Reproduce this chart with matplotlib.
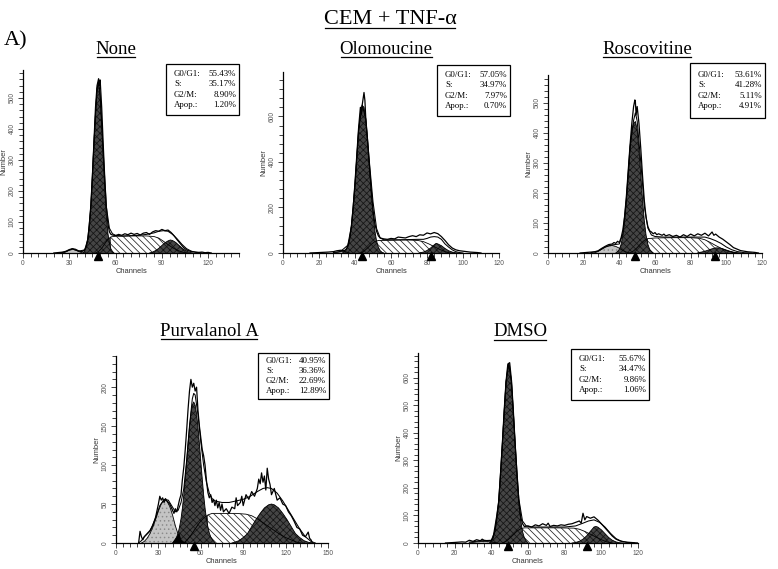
import numpy as np
import matplotlib
matplotlib.use("Agg")
import matplotlib.pyplot as plt
from matplotlib import transforms
from matplotlib.ticker import MultipleLocator
from matplotlib.patches import Rectangle
from matplotlib.lines import Line2D

# ------------------------------------------------------------------ data
main_title = "CEM + TNF-\u03b1"
panel_tag = "A)"
titles = ["None", "Olomoucine", "Roscovitine", "Purvalanol A", "DMSO"]
stat_labels = ["G0/G1:", "S:", "G2/M:", "Apop.:"]
none_stats = ["55.43%", "35.17%", "8.90%", "1.20%"]
olom_stats = ["57.05%", "34.97%", "7.97%", "0.70%"]
rosc_stats = ["53.61%", "41.28%", "5.11%", "4.91%"]
purv_stats = ["40.95%", "36.36%", "22.69%", "12.89%"]
dmso_stats = ["55.67%", "34.47%", "9.86%", "1.06%"]

# (channel, count) pairs
none_hist = [(20,0),(22,1),(24,2),(26,3),(28,6),(30,11),(32,14),(34,12),(36,7),(38,4),(40,10),(41,22),(42,45),
             (43,90),(44,155),(45,250),(46,360),(47,470),(48,540),(49,562),(49.6,540),(50,558),(51,470),(52,350),
             (53,240),(54,150),(55,95),(56,68),(57,60),(58,58),(60,56),(62,60),(64,57),(66,62),(68,59),(70,64),
             (72,60),(74,63),(76,58),(78,64),(80,66),(82,60),(84,68),(86,72),(88,70),(90,76),(92,72),(94,74),
             (96,66),(98,55),(100,42),(102,30),(104,18),(106,10),(108,6),(110,4),(112,3),(114,2),(116,3),(118,1),
             (120,2),(122,0)]
none_fit = [(24,0),(28,5),(32,13),(36,6),(40,10),(42,44),(44,152),(46,357),(48,531),(49,552),(50,514),(52,325),
            (54,150),(56,80),(58,62),(60,57),(65,55),(70,56),(75,57),(80,60),(85,65),(88,70),(91,72),(94,70),
            (97,60),(100,45),(103,28),(106,14),(109,6),(112,2),(116,0)]
none_g1 = [(39,0),(40,8),(41,19),(42,42),(43,85),(44,152),(45,246),(46,355),(47,458),(48,529),(49,547),(50,506),
           (51,419),(52,310),(53,206),(54,122),(55,65),(56,31),(57,13),(58,5),(59,0)]
none_s = [(47,0),(49,5),(51,15),(53,30),(55,44),(57,52),(60,54),(65,54),(70,55),(75,55),(80,55),(85,53),(88,48),
          (91,38),(94,27),(97,17),(100,9),(103,3),(106,0)]
none_g2 = [(82,0),(84,3),(86,8),(88,15),(90,24),(92,33),(94,39),(95.5,42),(97,40),(99,34),(101,25),(103,16),
           (105,9),(107,4),(109,1),(110,0)]
none_apo = [(26,0),(28,4),(30,10),(32,13),(34,10),(36,5),(38,1),(40,0)]
none_marks = [48.4]

olom_hist = [(15,0),(20,2),(25,4),(28,6),(30,10),(32,12),(34,10),(35,16),(36,30),(37,62),(38,118),(39,200),
             (40,310),(41,430),(42,550),(43,640),(43.6,610),(44,650),(45,705),(45.5,670),(46,590),(47,495),
             (48,385),(49,280),(50,190),(51,130),(52,95),(53,75),(54,66),(56,62),(58,60),(60,64),(62,62),(64,70),
             (66,68),(68,66),(70,72),(72,76),(74,72),(76,80),(78,78),(80,88),(82,84),(84,90),(86,85),(88,72),
             (90,55),(92,36),(94,22),(96,14),(98,10),(100,8),(102,6),(104,4),(106,3),(108,2),(110,0)]
olom_fit = [(28,2),(32,7),(36,34),(38,118),(40,302),(42,540),(44,650),(46,590),(48,400),(50,225),(52,107),
            (54,66),(56,58),(60,58),(65,58),(70,59),(75,60),(78,60),(80,64),(82,70),(84,72),(86,70),(88,60),
            (90,40),(92,26),(94,14),(96,6),(98,2),(100,0)]
olom_g1 = [(33,0),(34,5),(35,12),(36,28),(37,60),(38,115),(39,195),(40,300),(41,420),(42,535),(43,615),(44,648),
           (45,640),(46,585),(47,490),(48,380),(49,270),(50,175),(51,100),(52,52),(53,25),(54,10),(55,3),(56,0)]
olom_s = [(43,0),(45,8),(47,22),(49,38),(51,50),(53,55),(60,56),(65,57),(70,57),(75,55),(78,50),(81,40),
          (84,28),(87,16),(90,6),(93,0)]
olom_g2 = [(76,1),(78,4),(80,11),(82,22),(84,36),(85,42),(86,40),(88,32),(90,20),(92,10),(94,4),(96,1),(98,0)]
olom_apo = [(28,0),(31,4),(33,7),(35,5),(37,0)]
olom_marks = [44.1, 82.0]

rosc_hist = [(18,0),(22,2),(26,4),(28,7),(30,15),(32,22),(34,28),(36,30),(37,35),(38,32),(39,39),(40,35),
             (41,51),(42,78),(43,124),(44,193),(45,276),(46,359),(47,432),(48,488),(48.7,510),(49,504),
             (49.4,460),(50,488),(51,432),(52,350),(53,258),(54,175),(55,118),(56,88),(57,74),(58,70),(59,64),
             (60,68),(61,61),(62,64),(64,59),(65,63),(66,57),(68,61),(70,55),(72,59),(74,53),(76,61),(78,55),
             (80,63),(82,57),(84,64),(86,59),(88,66),(90,57),(92,70),(93,59),(94,63),(96,53),(98,46),(100,37),
             (102,28),(104,18),(106,13),(108,8),(110,6),(112,4),(114,3),(116,2),(118,0)]
rosc_fit = [(24,1),(28,6),(32,20),(36,27),(40,30),(42,64),(44,184),(46,354),(48,442),(49,467),(50,440),
            (52,304),(54,156),(56,83),(58,60),(60,55),(65,53),(70,53),(80,53),(85,53),(88,53),(91,48),(94,41),
            (97,32),(100,20),(103,11),(106,5),(110,1),(114,0)]
rosc_g1 = [(38,0),(39,5),(40,12),(41,29),(42,59),(43,108),(44,178),(45,262),(46,346),(47,410),(48,432),
           (49,438),(50,412),(51,346),(52,262),(53,178),(54,108),(55,59),(56,29),(57,12),(58,5),(59,0)]
rosc_s = [(46,0),(48,7),(50,18),(52,31),(54,42),(56,48),(60,50),(70,51),(80,51),(85,49),(88,44),(91,35),
          (94,25),(97,16),(100,8),(103,3),(106,0)]
rosc_g2 = [(84,1),(86,3),(88,6),(90,10),(92,14),(94,17),(96,17),(98,14),(100,10),(102,6),(104,3),(106,1),(108,0)]
rosc_apo = [(26,0),(28,5),(30,12),(32,19),(34,24),(36,25),(38,22),(40,16),(42,8),(44,3),(46,0)]
rosc_marks = [48.7, 93.5]

purv_hist = [(16,0),(17,15),(18,8),(19,4),(20,8),(22,12),(24,16),(26,22),(28,33),(30,50),(31,60),(32,55),
             (33,58),(34,52),(35,57),(36,54),(38,50),(40,42),(41,38),(42,44),(43,40),(44,48),(45,56),(46,62),
             (47,82),(48,98),(49,120),(50,145),(51,172),(52,195),(53,210),(54,200),(55,205),(56,195),(57,200),
             (58,170),(59,150),(60,135),(61,120),(62,112),(63,100),(64,80),(65,65),(66,58),(67,62),(68,52),
             (69,56),(70,48),(71,55),(72,45),(73,52),(74,42),(75,50),(76,40),(78,44),(80,38),(82,46),(84,44),
             (85,58),(86,48),(88,52),(89,60),(90,48),(92,62),(94,56),(96,66),(98,60),(100,70),(101,82),(102,76),
             (103,90),(104,78),(105,86),(106,68),(107,96),(108,82),(109,75),(110,62),(112,70),(114,55),(116,58),
             (118,50),(120,48),(122,40),(124,35),(126,28),(128,20),(130,18),(132,10),(134,8),(136,14),(137,6),
             (138,4),(139,0)]
purv_fit = [(16,0),(18,3),(20,8),(24,15),(28,32),(31,48),(34,56),(37,55),(40,46),(42,40),(44,42),(46,52),
            (48,70),(50,106),(52,150),(54,185),(55,192),(56,190),(58,165),(60,130),(62,100),(64,78),(66,64),
            (68,57),(70,54),(75,52),(80,52),(85,54),(90,56),(95,60),(100,66),(104,70),(107,71),(110,70),(114,64),
            (118,54),(122,42),(126,30),(130,18),(134,8),(138,2),(141,0)]
purv_g1 = [(40,0),(41,2.5),(42,5),(43,8),(44,13),(45,21),(46,31),(47,45),(48,62),(49,83),(50,105),(51,128),
           (52,149),(53,166),(54,177),(55,181),(56,177),(57,166),(58,149),(59,128),(60,105),(61,83),(62,62),
           (63,45),(64,31),(65,21),(66,13),(67,8),(68,5),(69,2.5),(70,0)]
purv_s = [(48,0),(50,3),(53,10),(56,18),(59,26),(62,32),(65,36),(68,38),(75,38),(85,38),(92,37),(96,35),
          (100,31),(104,26),(108,21),(112,16),(116,11),(120,7),(124,4),(128,1),(131,0)]
purv_g2 = [(82,0),(84,1),(87,3),(90,7),(93,12),(96,21),(99,30),(102,38),(105,45),(108,49),(110,50),(112,49),
           (115,45),(118,38),(121,30),(124,21),(127,12),(130,7),(133,3),(136,1),(139,0)]
purv_apo = [(18,0),(20,2),(22,6),(24,12),(26,20),(28,30),(30,41),(32,50),(34,55),(36,54),(38,47),(40,36),
            (42,22),(44,11),(46,4),(48,1),(50,0)]
purv_overlap = [(40,0),(42,5),(44,11),(45,12),(46,4),(48,1),(50,0)]
purv_marks = [55.4]

dmso_hist = [(15,0),(20,2),(24,4),(26,3),(28,10),(30,6),(32,12),(34,8),(35,14),(36,10),(38,8),(40,9),(41,20),
             (42,60),(43,100),(44,150),(45,250),(46,360),(47,480),(48,585),(49,650),(50,655),(51,590),(52,480),
             (53,360),(54,245),(55,155),(56,95),(57,70),(58,60),(60,62),(62,58),(64,66),(66,62),(68,70),(70,64),
             (71,72),(72,60),(74,64),(76,62),(78,66),(80,64),(82,68),(84,70),(86,75),(88,80),(89,72),(90,108),
             (91,84),(92,96),(94,90),(96,95),(98,84),(100,70),(102,55),(104,40),(106,25),(108,14),(110,8),
             (112,5),(114,3),(116,2),(118,1),(120,0)]
dmso_fit = [(28,3),(34,8),(40,10),(42,44),(44,150),(46,360),(48,585),(49.5,650),(51,585),(53,360),(55,160),
            (57,80),(59,62),(62,58),(70,58),(80,58),(86,62),(90,72),(93,80),(96,84),(99,75),(102,58),(105,35),
            (108,16),(111,6),(114,2),(118,0)]
dmso_g1 = [(39,0),(40,8),(41,19),(42,42),(43,83),(44,148),(45,242),(46,358),(47,479),(48,582),(49,642),
           (49.5,650),(50,642),(51,582),(52,479),(53,358),(54,242),(55,148),(56,83),(57,42),(58,19),(59,8),(60,0)]
dmso_s = [(46,0),(48,6),(50,17),(52,30),(54,43),(56,52),(58,55),(65,55),(75,55),(85,54),(88,50),(91,42),
          (94,32),(97,22),(100,12),(103,4),(106,0)]
dmso_g2 = [(84,0),(86,2),(88,6),(90,14),(92,26),(94,42),(96,58),(97,60),(98,58),(100,48),(102,34),(104,20),
           (106,10),(108,4),(110,1),(112,0)]
dmso_apo = [(28,0),(32,4),(36,6),(40,4),(43,0)]
dmso_marks = [49.2, 92.4]

panels = [
    dict(hist=none_hist, fit=none_fit, g1=none_g1, s=none_s, g2=none_g2, apo=none_apo, overlap=None,
         marks=none_marks, stats=none_stats),
    dict(hist=olom_hist, fit=olom_fit, g1=olom_g1, s=olom_s, g2=olom_g2, apo=olom_apo, overlap=None,
         marks=olom_marks, stats=olom_stats),
    dict(hist=rosc_hist, fit=rosc_fit, g1=rosc_g1, s=rosc_s, g2=rosc_g2, apo=rosc_apo, overlap=None,
         marks=rosc_marks, stats=rosc_stats),
    dict(hist=purv_hist, fit=purv_fit, g1=purv_g1, s=purv_s, g2=purv_g2, apo=purv_apo, overlap=purv_overlap,
         marks=purv_marks, stats=purv_stats),
    dict(hist=dmso_hist, fit=dmso_fit, g1=dmso_g1, s=dmso_s, g2=dmso_g2, apo=dmso_apo, overlap=None,
         marks=dmso_marks, stats=dmso_stats),
]

# ------------------------------------------------------------------ layout (pixels, from top-left)
W, H = 778, 569
layout = [
    dict(rect=(23, 70, 239, 253), xlim=(0, 140), ylim=(0, 590), xmaj=30, xmin=5, ymaj=100, ymin=20, split=57,
         title=(116, 49), box=(166, 64, 239, 115)),
    dict(rect=(283, 72, 499, 253), xlim=(0, 120), ylim=(0, 795), xmaj=20, xmin=4, ymaj=200, ymin=40, split=51,
         title=(386, 49), box=(437, 65, 510, 116)),
    dict(rect=(548, 75, 762, 253), xlim=(0, 120), ylim=(0, 593), xmaj=20, xmin=4, ymaj=100, ymin=20, split=56,
         title=(647, 49), box=(690, 63, 765, 118)),
    dict(rect=(116, 356, 328, 543), xlim=(0, 150), ylim=(0, 240), xmaj=30, xmin=5, ymaj=50, ymin=10, split=65,
         title=(209, 331), box=(258, 353, 329, 399)),
    dict(rect=(418, 353, 638, 543), xlim=(0, 120), ylim=(0, 690), xmaj=20, xmin=4, ymaj=100, ymin=20, split=56,
         title=(520, 332), box=(571, 349, 649, 400)),
]

SERIF = ["Liberation Serif", "DejaVu Serif"]
SANS = ["Liberation Sans", "DejaVu Sans"]
DARK_FACE = "#454545"
DARK_HATCH = "#151515"
LIGHT_FACE = "#c4c4c4"
LIGHT_HATCH = "#8a8a8a"

plt.rcParams["hatch.linewidth"] = 0.55

fig = plt.figure(figsize=(W / 100, H / 100), dpi=100)
fig.patch.set_facecolor("white")


def fx(px):
    return px / W


def fy(py):
    return 1 - py / H


def xy(pairs):
    a = np.array(pairs, dtype=float)
    return a[:, 0], a[:, 1]


underlined = []

for d, L in zip(panels, layout):
    l, t, r, b = L["rect"]
    ax = fig.add_axes([fx(l), fy(b), (r - l) / W, (b - t) / H])
    ax.set_xlim(*L["xlim"])
    ax.set_ylim(*L["ylim"])
    ax.set_facecolor("none")
    for sp in ("top", "right"):
        ax.spines[sp].set_visible(False)
    for sp in ("left", "bottom"):
        ax.spines[sp].set_linewidth(0.9)
        ax.spines[sp].set_zorder(10)
    ax.xaxis.set_major_locator(MultipleLocator(L["xmaj"]))
    ax.xaxis.set_minor_locator(MultipleLocator(L["xmin"]))
    ax.yaxis.set_major_locator(MultipleLocator(L["ymaj"]))
    ax.yaxis.set_minor_locator(MultipleLocator(L["ymin"]))
    ax.tick_params(which="both", direction="out", width=0.6, colors="#222", labelcolor="#555",
                   labelsize=4.8, pad=1.5)
    ax.tick_params(which="major", length=3.6)
    ax.tick_params(which="minor", length=2.6)
    ax.tick_params(axis="y", labelrotation=90)
    for lab in ax.get_yticklabels():
        lab.set_va("center")
    for lab in ax.get_xticklabels() + ax.get_yticklabels():
        lab.set_family(SANS)
    ax.set_xlabel("Channels", fontsize=5.4, family=SANS, color="#333", labelpad=0.5)
    ax.set_ylabel("Number", fontsize=5.4, family=SANS, color="#333", labelpad=1)

    # S phase: dark rising ramp, hatched plateau
    sx, sy = xy(d["s"])
    k = int(np.where(sx == L["split"])[0][0])
    ax.fill_between(sx[k:], 0, sy[k:], facecolor="white", edgecolor="#222", hatch="\\\\\\\\\\",
                    linewidth=0, zorder=1)
    ax.fill_between(sx[:k + 1], 0, sy[:k + 1], facecolor=DARK_FACE, edgecolor=DARK_HATCH, hatch="xxxxx",
                    linewidth=0, zorder=1.5)
    # apoptotic
    axp, ayp = xy(d["apo"])
    ax.fill_between(axp, 0, ayp, facecolor=LIGHT_FACE, edgecolor=LIGHT_HATCH, hatch="....", linewidth=0,
                    zorder=2)
    # G0/G1 and G2/M
    for key in ("g1", "g2"):
        cx, cy = xy(d[key])
        ax.fill_between(cx, 0, cy, facecolor=DARK_FACE, edgecolor=DARK_HATCH, hatch="xxxxx", linewidth=0,
                        zorder=3)
    if d["overlap"] is not None:
        ox, oy = xy(d["overlap"])
        ax.fill_between(ox, 0, oy, facecolor="black", linewidth=0, zorder=3.5)
    # outlines
    for key in ("s", "apo", "g1", "g2"):
        cx, cy = xy(d[key])
        ax.plot(cx, cy, color="black", lw=0.6, zorder=4)
    fxs, fys = xy(d["fit"])
    ax.plot(fxs, fys, color="black", lw=0.75, zorder=5)
    hx, hy = xy(d["hist"])
    ax.plot(hx, hy, color="black", lw=0.9, zorder=6)

    # peak markers under the axis
    trans = transforms.offset_copy(ax.transData, fig=fig, y=-3.2, units="dots")
    for m in d["marks"]:
        ax.plot([m], [0], marker="^", ms=5.2, color="black", transform=trans, clip_on=False, zorder=11)

    # stats box
    bl, bt, br, bb = L["box"]
    fig.patches.append(Rectangle((fx(bl), fy(bb)), (br - bl) / W, (bb - bt) / H, transform=fig.transFigure,
                                 facecolor="white", edgecolor="black", linewidth=0.9, zorder=20))
    spacing = 10.3 if (bb - bt) > 48 else 9.8
    first = bt + ((bb - bt) - 3 * spacing) / 2
    for i, (lab, val) in enumerate(zip(stat_labels, d["stats"])):
        yy = fy(first + i * spacing)
        fig.text(fx(bl + 8), yy, lab, fontsize=6.4, family=SERIF, ha="left", va="center", zorder=21)
        fig.text(fx(br - 3), yy, val, fontsize=6.4, family=SERIF, ha="right", va="center", zorder=21)

    # title
    tx, ty = L["title"]
    tt = fig.text(fx(tx), fy(ty), None, fontsize=13.5, family=SERIF, ha="center", va="center")
    underlined.append(tt)

for tt, name in zip(underlined, titles):
    tt.set_text(name)

mt = fig.text(fx(390), fy(19), main_title, fontsize=16, family=SERIF, ha="center", va="center")
underlined.append(mt)
fig.text(fx(4), fy(41), panel_tag, fontsize=16, family=SERIF, ha="left", va="center")

# underline titles
fig.canvas.draw()
renderer = fig.canvas.get_renderer()
for tt in underlined:
    bb = tt.get_window_extent(renderer)
    y = bb.y0 + 1.0
    fig.add_artist(Line2D([bb.x0 + 1, bb.x1 - 1], [y, y], transform=None, color="black", lw=0.9))

fig.savefig("out.png", dpi=100, facecolor="white")
